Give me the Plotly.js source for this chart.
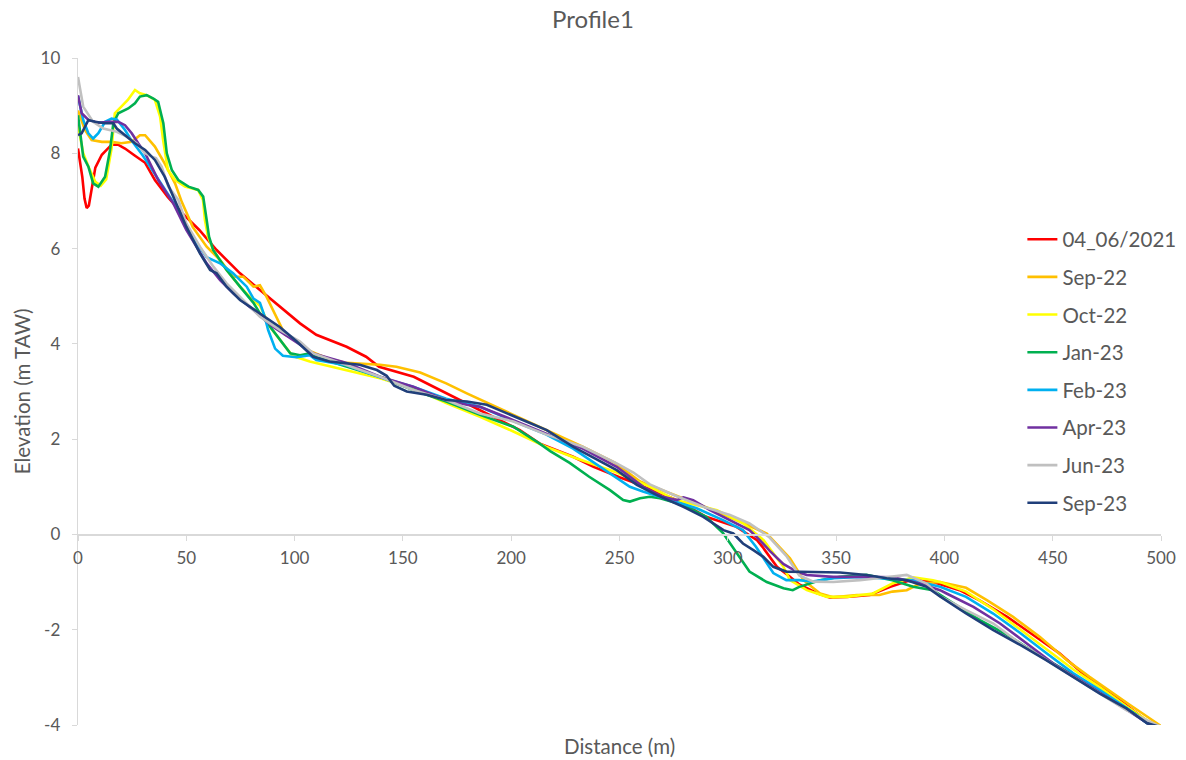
<!DOCTYPE html>
<html>
<head>
<meta charset="utf-8">
<script src="https://cdn.plot.ly/plotly-3.0.1.min.js"></script>
<style>
  html, body { margin: 0; padding: 0; background: #ffffff; }
  #chart { width: 1186px; height: 760px; }
</style>
</head>
<body>
<div id="chart"></div>
<script>
// ---------- DATA (distance m, elevation m TAW) ----------
const seriesNames = ["04_06/2021", "Sep-22", "Oct-22", "Jan-23", "Feb-23", "Apr-23", "Jun-23", "Sep-23"];

const redX = [0,2,3,4,5,6,8,11,15.5,18.5,21.7,26,31,35.5,41.5,48,56,64,68.6,74.8,84,93,102.5,110,124,133,139,155,167,179.5,191.6,204,213,228.6,238,250,256,276.5,290,304,313.5,316,322.7,328.7,333,341,347,355,365.6,375,385.6,394.7,407,416,429,441,453,465.8,478,487,496,500];
const redY = [8.1,7.5,7.05,6.85,6.9,7.2,7.7,7.97,8.18,8.18,8.1,7.96,7.8,7.44,7.08,6.75,6.39,5.97,5.76,5.48,5.13,4.78,4.43,4.19,3.94,3.73,3.52,3.31,3.03,2.75,2.47,2.19,1.91,1.63,1.42,1.2,1.1,0.72,0.37,0.16,-0.12,-0.26,-0.68,-0.89,-1.05,-1.23,-1.32,-1.31,-1.27,-1.1,-0.94,-1.0,-1.17,-1.38,-1.73,-2.11,-2.49,-2.99,-3.37,-3.69,-4.0,-4.05];

const orangeX = [0,3.2,6.3,11,15.5,20,24.8,28.6,31,35.5,40,44.8,47.9,53,59.4,65.6,71.6,76.3,81,84,87,91.7,95.6,99,107,115,124,139.4,147,158,170,179.5,193,204,218,233,248,259.5,273,295,307,318,328.7,335,342.6,348.6,359.6,370,376,382.6,388.7,398,410,419.6,431.7,444,456.6,467,485.7,493.5,500];
const orangeY = [8.9,8.49,8.28,8.24,8.24,8.21,8.24,8.38,8.38,8.14,7.79,7.37,6.98,6.45,6.04,5.76,5.41,5.41,5.2,5.23,4.99,4.57,4.19,4.12,3.85,3.7,3.6,3.56,3.52,3.4,3.17,2.96,2.68,2.45,2.15,1.84,1.5,1.11,0.87,0.48,0.24,0.02,-0.5,-0.96,-1.24,-1.32,-1.27,-1.27,-1.2,-1.17,-1.03,-1.0,-1.12,-1.38,-1.73,-2.15,-2.64,-2.99,-3.58,-3.83,-4.02];

const yellowX = [0,2.4,5,8,10.5,13,15.5,17,20,23,26.3,28.6,31.7,35.5,37.9,39.3,41.5,44.8,49.4,55.4,57.7,58.6,60,62.4,68.6,74.8,79,82.5,84,88.6,94.6,99,107,124,139.4,154.7,170,185.6,201,216,230,248.7,264,276,295,307,316.5,325.7,328.7,336.5,345.8,355,367,376,385.6,394.7,398,410,422.5,434.9,447,459.4,471.8,484,495,500];
const yellowY = [8.6,8.0,7.7,7.4,7.32,7.45,8.1,8.84,8.98,9.12,9.33,9.26,9.22,9.12,8.77,8.28,7.65,7.44,7.3,7.23,7.02,6.6,6.25,5.97,5.55,5.2,5.0,4.86,4.8,4.36,4.0,3.75,3.63,3.45,3.28,3.07,2.76,2.47,2.16,1.84,1.6,1.3,1.0,0.72,0.51,0.24,-0.12,-0.68,-0.96,-1.17,-1.31,-1.31,-1.24,-1.03,-0.9,-0.96,-1.0,-1.2,-1.57,-1.99,-2.41,-2.83,-3.21,-3.61,-3.95,-4.05];

const greenX = [0,2.4,4.8,7,9.4,12.5,14.8,16.3,18.6,23.2,26.3,28.6,31.7,34.8,37,39.4,41,43.3,46.3,51,55.5,57.8,59.4,60.5,62.4,68.6,74.8,81,84,88.6,94.6,98,102.5,107,110,124,139.4,154.7,170,185.6,201,213,218,227,236,245.6,251.7,254.8,259.5,264,268.7,279.4,290,297.8,304,310,318,325.7,330,333,342.6,351.8,364,376,385.6,394.7,404,416.4,429,441,453,465.8,478,489,493.5,500];
const greenY = [8.8,7.93,7.72,7.37,7.3,7.51,8.07,8.63,8.84,8.94,9.05,9.19,9.22,9.15,9.08,8.63,8.0,7.65,7.44,7.3,7.23,7.09,6.6,6.25,5.97,5.55,5.2,4.86,4.64,4.36,4.01,3.8,3.76,3.8,3.72,3.52,3.31,3.03,2.79,2.51,2.26,1.91,1.75,1.5,1.21,0.93,0.72,0.69,0.76,0.79,0.76,0.62,0.37,0.03,-0.39,-0.78,-1.0,-1.13,-1.17,-1.1,-0.96,-0.89,-0.85,-0.96,-1.1,-1.17,-1.44,-1.8,-2.11,-2.46,-2.78,-3.12,-3.48,-3.79,-3.96,-4.05];

const blueX = [0,2.4,4.8,7,9.4,12.5,15.5,17.9,21.7,25,30,35,40,45,50,55,59.4,65.6,71.6,77.9,81,84,86,87.8,91,94.6,101,107,110,124,139.4,154.7,170,185.6,201,216,228.6,245.6,254.8,260.8,273,285.6,297.8,307,313,321,327,333,339,348.6,361,373,385.6,398,410,422.5,435,447,459.4,471.8,484,493.5,500];
const blueY = [9.2,8.7,8.42,8.31,8.42,8.66,8.73,8.71,8.49,8.25,7.95,7.6,7.25,6.9,6.5,6.1,5.82,5.69,5.48,5.2,4.95,4.86,4.6,4.29,3.9,3.75,3.72,3.76,3.66,3.55,3.3,3.1,2.85,2.68,2.38,2.1,1.8,1.28,1.0,0.9,0.72,0.55,0.3,0.09,-0.26,-0.81,-0.96,-0.96,-0.99,-0.92,-0.89,-0.92,-0.96,-1.1,-1.31,-1.66,-2.07,-2.49,-2.91,-3.27,-3.64,-3.96,-4.05];

const purpleX = [0,1.7,4.8,9.4,14,18.6,21.7,24.8,27.8,31,34,37,40,44,50,54.8,59.4,65.6,71.7,81,90,99.4,108.6,124,139.4,154.8,170,179.5,185.6,201,216.3,233,248.7,261,270,276.4,279.5,284,291.8,301,305.6,310,314.8,319.5,325.6,331.8,336.4,348.7,364,376.4,388.7,398,401,413.4,425.7,438,450.3,462.6,475,487,495,500];
const purpleY = [9.22,8.84,8.7,8.64,8.66,8.66,8.59,8.42,8.21,8.0,7.72,7.44,7.23,6.95,6.39,6.04,5.69,5.34,5.06,4.71,4.36,4.08,3.8,3.6,3.31,3.1,2.82,2.72,2.68,2.4,2.12,1.8,1.42,1.0,0.79,0.72,0.78,0.72,0.51,0.3,0.18,0.09,-0.12,-0.35,-0.62,-0.78,-0.85,-0.89,-0.89,-0.9,-1.03,-1.17,-1.24,-1.52,-1.87,-2.29,-2.71,-3.06,-3.41,-3.76,-4.0,-4.08];

const greyX = [0,2.4,7,11.7,17.9,22.5,27,31,34,36,38.6,41.7,46.3,50,56.3,62.5,68.6,76.3,84,93.3,102.5,108.6,124,139.4,154.8,170,185.6,201,216,233,248.7,256.4,264,276.4,288.7,301,310,319,327,333,339.5,348.7,361,373.3,382.6,391.8,398,410,422.6,435,447,459.5,471.8,484,498,500];
const greyY = [9.6,8.98,8.66,8.52,8.45,8.35,8.21,8.0,7.93,7.9,7.72,7.3,7.02,6.53,6.04,5.62,5.27,4.92,4.57,4.29,4.05,3.8,3.56,3.31,3.03,2.82,2.54,2.37,2.1,1.84,1.49,1.3,1.05,0.8,0.58,0.41,0.23,-0.05,-0.45,-0.86,-0.99,-1.0,-0.96,-0.89,-0.85,-1.03,-1.3,-1.59,-1.87,-2.29,-2.64,-2.99,-3.34,-3.69,-4.0,-4.03];

const navyX = [0,1.7,4.8,7.8,12.5,16.3,17.9,21.7,26.3,31,35.5,40,44.8,50,56.3,61,64,68.6,74.8,84,93.3,101,108.6,116,124,130,138,142.5,146,151.8,161,170,179.5,188.7,194,198,207,216.4,228.7,248.7,258,267,279.5,288.7,298,302.5,307,311.8,316.4,321,327,339.5,351.8,364,373.3,382.6,391.8,398,410,422.6,435,447,459.5,471.8,484,493.5,500];
const navyY = [8.38,8.42,8.7,8.66,8.63,8.63,8.52,8.38,8.21,8.07,7.86,7.51,7.0,6.46,5.9,5.55,5.48,5.2,4.92,4.64,4.35,4.05,3.73,3.63,3.59,3.56,3.45,3.33,3.12,3.0,2.93,2.82,2.79,2.72,2.62,2.54,2.37,2.19,1.84,1.35,1.04,0.83,0.58,0.37,0.09,0.02,-0.19,-0.33,-0.47,-0.68,-0.78,-0.79,-0.8,-0.85,-0.92,-0.96,-1.1,-1.3,-1.66,-2.01,-2.32,-2.64,-2.99,-3.34,-3.65,-3.96,-4.05];

const xTicks = [0, 50, 100, 150, 200, 250, 300, 350, 400, 450, 500];
const yTicks = [-4, -2, 0, 2, 4, 6, 8, 10];

// ---------- STYLE ----------
const colors = ["#FF0000", "#FFC000", "#FFFF00", "#00B050", "#00B0F0", "#7030A0", "#C0C0C0", "#203F7A"];
const xs = [redX, orangeX, yellowX, greenX, blueX, purpleX, greyX, navyX];
const ys = [redY, orangeY, yellowY, greenY, blueY, purpleY, greyY, navyY];

const FONT = "Lato, 'Open Sans', sans-serif";
const TXT = "#595959";

const traces = seriesNames.map((name, i) => ({
  type: "scatter",
  mode: "lines",
  name: name,
  x: xs[i],
  y: ys[i],
  legendgroup: "g" + i,
  line: { color: colors[i], width: 2.6 },
  hoverinfo: "x+y+name"
}));

const yMin = -4, yMax = 10;

const layout = {
  width: 1186,
  height: 760,
  paper_bgcolor: "#ffffff",
  plot_bgcolor: "#ffffff",
  margin: { l: 78, r: 25, t: 58, b: 35, autoexpand: false },
  font: { family: FONT, color: TXT },
  title: {
    text: "Profile1",
    font: { family: FONT, size: 24, color: TXT },
    x: 0.5, xref: "container",
    y: 1 - 20 / 760, yref: "container", yanchor: "middle"
  },
  xaxis: {
    range: [0, 500],
    tickvals: xTicks,
    ticktext: xTicks.map(String),
    showgrid: false,
    zeroline: false,
    showline: true,
    linecolor: "#D9D9D9",
    linewidth: 1.3,
    ticks: "outside",
    ticklen: 5,
    tickcolor: "#D9D9D9",
    ticklabelstandoff: 3,
    tickfont: { family: FONT, size: 17, color: TXT },
    anchor: "free",
    position: (0 - yMin) / (yMax - yMin),
    automargin: false,
    fixedrange: true
  },
  yaxis: {
    range: [yMin, yMax],
    tickvals: yTicks,
    ticktext: yTicks.map(String),
    showgrid: false,
    zeroline: false,
    showline: true,
    linecolor: "#D9D9D9",
    linewidth: 1.3,
    ticks: "outside",
    ticklen: 5,
    tickcolor: "#D9D9D9",
    ticklabelstandoff: 8,
    tickfont: { family: FONT, size: 17, color: TXT },
    title: { text: "Elevation (m TAW)", font: { family: FONT, size: 20.5, color: TXT }, standoff: 4 },
    automargin: false,
    fixedrange: true
  },
  annotations: [{
    text: "Distance (m)",
    xref: "paper", yref: "paper",
    x: 0.5, y: 0,
    xanchor: "center", yanchor: "top",
    yshift: -7,
    showarrow: false,
    font: { family: FONT, size: 20.5, color: TXT }
  }],
  showlegend: true,
  legend: {
    x: 0.872, xanchor: "left",
    y: 0.758, yanchor: "top",
    bgcolor: "rgba(0,0,0,0)",
    font: { family: FONT, size: 20.5, color: TXT },
    tracegroupgap: 8,
    itemwidth: 30,
    traceorder: "grouped"
  }
};

Plotly.newPlot("chart", traces, layout, { displayModeBar: false, staticPlot: true });
</script>
</body>
</html>
